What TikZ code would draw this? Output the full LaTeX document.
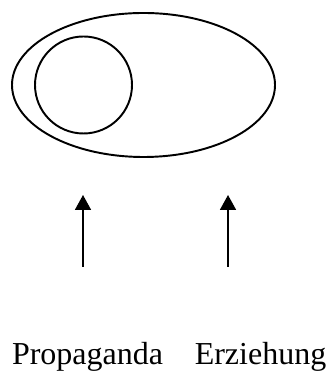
\documentclass[tikz,border=0pt]{standalone}
\usepackage{fontspec}
\setmainfont{Liberation Serif}
\usetikzlibrary{arrows.meta,shapes.geometric}
\begin{document}
\begin{tikzpicture}[font=\fontsize{18.2}{22}\selectfont,
  outline/.style={draw,line width=1.1pt,inner sep=0pt},
  pfeil/.style={-{Triangle[length=0.3cm,width=0.32cm]},line width=1pt}]
  \useasboundingbox (0,0) rectangle (6.62,7.46);
  \node[outline,ellipse,minimum width=5.26cm,minimum height=2.88cm] (gesamt) at (2.87,5.76) {};
  \node[outline,circle,minimum size=1.94cm] (kreis) at (1.67,5.76) {};

  \coordinate (pfuss) at (1.66,2.12);
  \coordinate (pspitze) at (1.66,3.56);
  \coordinate (efuss) at (4.56,2.12);
  \coordinate (espitze) at (4.56,3.56);
  \draw[pfeil] (pfuss) -- (pspitze);
  \draw[pfeil] (efuss) -- (espitze);

  \node[anchor=base,inner sep=0pt] (prop) at (1.75,0.18) {Propaganda};
  \node[anchor=base,inner sep=0pt] (erz) at (5.21,0.18) {Erziehung};
\end{tikzpicture}
\end{document}
